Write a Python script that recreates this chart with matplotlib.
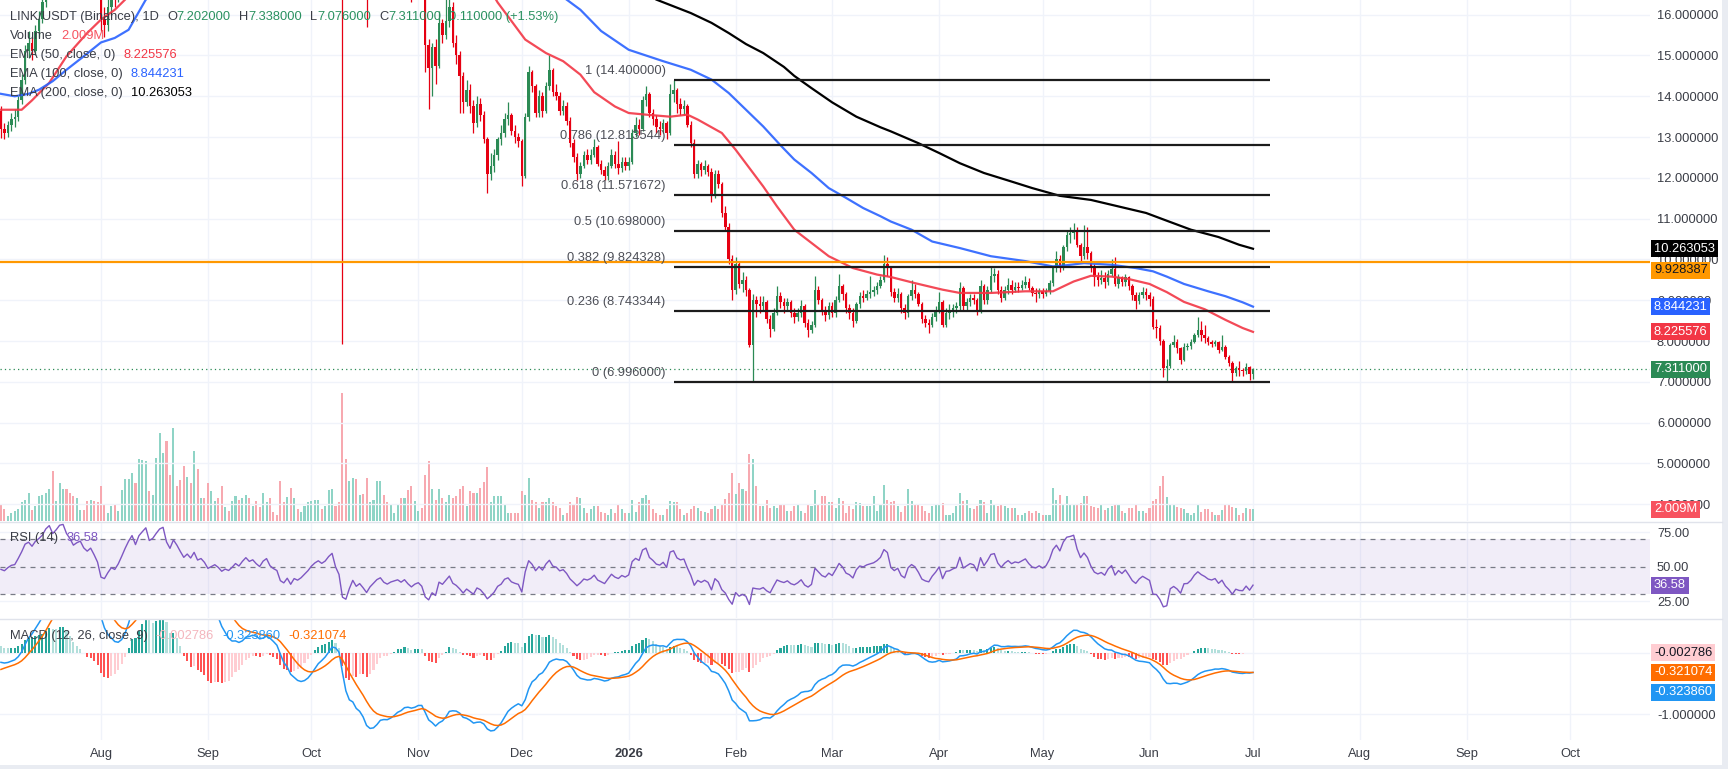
import matplotlib
matplotlib.use("Agg")
import matplotlib.pyplot as plt
import numpy as np
import pandas as pd
from matplotlib.lines import Line2D
from matplotlib.patches import Rectangle

W, H = 1728, 769
FONT = "Liberation Sans"
plt.rcParams["font.family"] = [FONT, "DejaVu Sans"]
FS = 9.3

# ---- data (daily LINK/USDT candles) ----
START = "2025-07-03"
first_open = 13.65
close = [
    13.20, 13.10, 13.30, 13.45, 13.50, 13.90, 14.40, 15.10, 15.30, 15.10,
    15.60, 15.90, 16.30, 17.20, 17.80, 17.40, 18.00, 18.90, 19.10, 18.60,
    18.30, 17.90, 18.20, 18.40, 18.00, 17.80, 18.10, 17.70, 17.20, 15.90,
    15.75, 16.20, 16.60, 16.45, 16.90, 17.60, 18.50, 19.50, 20.50, 19.80,
    21.50, 22.50, 23.60, 22.40, 22.90, 24.20, 25.60, 26.20, 24.60, 23.80,
    26.00, 25.30, 24.40, 23.50, 24.20, 23.60, 24.80, 23.60, 23.90, 23.30,
    22.30, 22.60, 22.90, 22.50, 21.90, 22.20, 22.00, 22.40, 22.90, 22.60,
    23.20, 23.70, 23.30, 23.50, 23.10, 22.80, 23.40, 23.70, 23.00, 22.70,
    22.50, 21.30, 21.00, 21.40, 20.60, 21.10, 20.90, 21.10, 21.40, 21.70,
    22.10, 22.40, 22.60, 22.40, 22.60, 23.00, 23.30, 22.30, 21.60, 18.10,
    17.60, 18.60, 19.50, 18.40, 18.70, 17.90, 16.90, 17.50, 17.90, 18.30,
    18.50, 17.80, 17.50, 17.70, 17.80, 17.90, 17.60, 17.80, 17.30, 16.90,
    17.10, 17.20, 16.80, 15.25, 14.70, 15.20, 14.75, 15.80, 15.50, 15.85,
    16.20, 15.30, 15.00, 14.50, 13.85, 14.15, 13.75, 13.35, 13.80, 13.55,
    12.95, 12.10, 12.30, 12.55, 12.95, 13.10, 13.45, 13.55, 13.15, 13.00,
    12.90, 12.05, 13.50, 14.60, 14.25, 13.60, 14.00, 13.65, 14.25, 14.65,
    14.10, 14.00, 13.65, 13.75, 13.40, 12.85, 12.50, 12.10, 12.30, 12.55,
    12.45, 12.55, 12.75, 12.35, 12.20, 12.05, 12.30, 12.55, 12.35, 12.25,
    12.40, 12.30, 12.40, 13.10, 13.30, 13.20, 13.90, 14.05, 13.60, 13.45,
    13.25, 13.20, 13.35, 13.10, 14.05, 14.15, 13.80, 13.70, 13.75, 13.30,
    12.85, 12.10, 12.35, 12.20, 12.30, 12.15, 11.55, 12.10, 11.85, 11.15,
    10.80, 10.00, 9.25, 9.90, 9.40, 9.50, 9.25, 7.90, 9.00, 8.90,
    8.85, 8.95, 8.55, 8.30, 8.70, 9.10, 8.95, 8.85, 8.95, 8.70,
    8.60, 8.70, 8.85, 8.45, 8.28, 8.40, 9.25, 9.00, 8.75, 8.65,
    8.85, 8.70, 9.00, 9.35, 9.15, 8.80, 8.70, 8.50, 8.90, 9.10,
    9.05, 9.15, 9.20, 9.25, 9.35, 9.50, 9.90, 9.80, 9.20, 9.05,
    9.15, 8.80, 8.68, 9.10, 9.25, 9.15, 8.90, 8.55, 8.45, 8.40,
    8.60, 8.75, 8.95, 8.40, 8.70, 8.72, 8.80, 8.85, 9.30, 8.85,
    8.95, 9.05, 9.00, 8.75, 9.35, 9.00, 9.25, 9.60, 9.65, 9.25,
    9.05, 9.25, 9.38, 9.25, 9.33, 9.30, 9.38, 9.46, 9.30, 9.18,
    9.15, 9.22, 9.15, 9.22, 9.42, 9.80, 10.00, 9.85, 10.30, 10.60,
    10.65, 10.73, 10.36, 10.08, 10.30, 10.15, 9.83, 9.58, 9.50, 9.55,
    9.44, 9.65, 9.77, 9.40, 9.56, 9.44, 9.56, 9.36, 9.12, 8.99,
    9.12, 9.20, 9.12, 9.04, 8.35, 8.33, 8.00, 7.35, 7.38, 7.90,
    7.98, 7.82, 7.54, 7.86, 7.87, 7.98, 8.16, 8.28, 8.16, 8.08,
    7.97, 7.93, 7.97, 7.78, 7.86, 7.62, 7.46, 7.22, 7.34, 7.28,
    7.27, 7.37, 7.202, 7.311,
]
high = [
    13.75, 13.35, 13.40, 13.60, 13.70, 14.00, 14.55, 15.25, 15.60, 15.45,
    15.75, 16.10, 16.60, 17.50, 18.20, 18.30, 18.40, 19.30, 19.50, 19.30,
    18.90, 18.50, 18.50, 18.80, 18.60, 18.30, 18.40, 18.30, 17.90, 17.40,
    16.20, 16.40, 16.90, 16.80, 17.10, 17.80, 18.70, 19.80, 21.00, 20.60,
    21.80, 22.90, 24.00, 24.00, 23.30, 24.60, 26.00, 26.80, 26.50, 25.00,
    26.40, 26.30, 25.60, 24.70, 24.50, 24.50, 25.20, 25.00, 24.20, 24.10,
    23.50, 22.90, 23.20, 23.10, 22.70, 22.50, 22.40, 22.60, 23.20, 23.10,
    23.40, 24.00, 23.90, 23.80, 23.70, 23.30, 23.60, 24.00, 23.90, 23.20,
    22.90, 22.60, 21.60, 21.70, 21.50, 21.40, 21.30, 21.30, 21.60, 21.90,
    22.30, 22.70, 22.90, 22.80, 22.80, 23.30, 23.60, 23.40, 22.50, 21.80,
    18.40, 18.90, 19.80, 19.60, 19.00, 18.80, 18.00, 17.70, 18.20, 18.50,
    18.80, 18.60, 18.00, 17.90, 18.00, 18.10, 18.00, 18.00, 17.90, 17.40,
    17.40, 17.50, 17.40, 16.90, 15.40, 15.30, 15.40, 16.10, 15.90, 16.40,
    16.60, 16.30, 15.50, 15.10, 14.60, 14.40, 14.30, 13.90, 14.00, 13.95,
    13.65, 13.00, 12.60, 12.70, 13.00, 13.30, 13.60, 13.85, 13.60, 13.30,
    13.10, 12.95, 13.60, 14.75, 14.65, 14.30, 14.15, 14.10, 14.35, 15.00,
    14.70, 14.30, 14.10, 13.90, 13.85, 13.50, 12.95, 12.60, 12.40, 12.65,
    12.70, 12.70, 12.95, 12.80, 12.45, 12.30, 12.40, 12.70, 12.65, 12.90,
    12.50, 12.50, 12.50, 13.20, 13.50, 13.45, 14.00, 14.25, 14.10, 13.70,
    13.55, 13.40, 13.45, 13.40, 14.30, 14.40, 14.20, 13.95, 13.90, 13.80,
    13.40, 12.95, 12.45, 12.40, 12.45, 12.35, 12.25, 12.20, 12.20, 11.90,
    11.30, 10.90, 10.10, 10.05, 9.95, 9.70, 9.60, 9.30, 9.15, 9.10,
    9.10, 9.10, 9.00, 8.65, 8.80, 9.35, 9.20, 9.05, 9.05, 9.00,
    8.80, 8.80, 9.00, 8.90, 8.55, 8.50, 9.60, 9.35, 9.05, 8.85,
    8.95, 8.95, 9.10, 9.65, 9.40, 9.20, 8.90, 8.80, 8.95, 9.20,
    9.25, 9.25, 9.60, 9.35, 9.45, 9.60, 10.10, 10.05, 9.85, 9.30,
    9.30, 9.20, 8.90, 9.15, 9.50, 9.40, 9.20, 8.95, 8.65, 8.55,
    8.70, 8.85, 9.20, 9.00, 8.80, 8.90, 8.90, 8.95, 9.45, 9.35,
    9.05, 9.15, 9.15, 9.05, 9.50, 9.40, 9.35, 9.85, 9.80, 9.75,
    9.35, 9.35, 9.55, 9.50, 9.45, 9.45, 9.50, 9.60, 9.55, 9.35,
    9.30, 9.30, 9.30, 9.30, 9.50, 9.85, 10.20, 10.10, 10.35, 10.70,
    10.80, 10.90, 10.80, 10.40, 10.85, 10.80, 10.20, 9.90, 9.70, 9.75,
    9.70, 9.75, 10.02, 10.05, 9.65, 9.60, 9.65, 9.60, 9.40, 9.20,
    9.20, 9.33, 9.30, 9.20, 9.10, 8.55, 8.40, 8.05, 7.55, 7.95,
    8.14, 8.05, 7.85, 7.95, 7.95, 8.05, 8.20, 8.58, 8.50, 8.40,
    8.12, 8.02, 8.02, 8.00, 8.14, 7.90, 7.65, 7.50, 7.40, 7.50,
    7.35, 7.47, 7.40, 7.338,
]
low = [
    12.98, 12.95, 13.00, 13.15, 13.25, 13.40, 13.80, 14.30, 14.95, 14.90,
    15.00, 15.45, 15.80, 16.20, 17.00, 17.10, 17.20, 17.90, 18.60, 18.30,
    18.00, 17.60, 17.70, 18.00, 17.80, 17.50, 17.60, 17.50, 17.00, 15.60,
    15.45, 15.60, 16.00, 16.20, 16.30, 16.80, 17.40, 18.30, 19.20, 19.50,
    19.50, 21.20, 22.30, 22.10, 22.10, 22.60, 24.00, 25.30, 24.20, 23.30,
    23.50, 25.00, 24.10, 23.20, 23.30, 23.30, 23.40, 23.40, 23.40, 23.00,
    22.00, 22.10, 22.40, 22.30, 21.60, 21.70, 21.80, 21.80, 22.30, 22.40,
    22.40, 23.00, 23.10, 23.10, 22.90, 22.50, 22.60, 23.20, 22.80, 22.50,
    22.30, 21.00, 20.70, 20.80, 20.30, 20.40, 20.70, 20.80, 21.00, 21.20,
    21.50, 21.90, 22.20, 22.10, 22.20, 22.40, 22.80, 22.10, 21.30, 7.94,
    17.10, 17.40, 18.40, 18.20, 18.20, 17.70, 15.70, 16.70, 17.30, 17.80,
    18.10, 17.60, 17.20, 17.30, 17.50, 17.60, 17.40, 17.40, 17.10, 16.30,
    16.70, 16.90, 16.50, 14.60, 13.70, 14.00, 14.30, 14.70, 15.30, 15.40,
    15.70, 15.20, 14.80, 13.60, 13.60, 13.75, 13.60, 13.10, 13.25, 13.40,
    12.85, 11.63, 11.95, 12.15, 12.45, 12.80, 13.00, 13.30, 13.05, 12.85,
    12.75, 11.80, 12.00, 13.40, 14.10, 13.50, 13.50, 13.50, 13.60, 14.15,
    14.00, 13.90, 13.55, 13.55, 13.30, 12.75, 12.40, 11.95, 12.00, 12.25,
    12.35, 12.35, 12.50, 12.30, 12.10, 11.95, 11.95, 12.25, 12.25, 12.10,
    12.15, 12.20, 12.20, 12.35, 13.00, 13.05, 13.15, 13.75, 13.50, 13.30,
    13.10, 13.05, 13.10, 12.95, 13.05, 13.85, 13.60, 13.55, 13.55, 13.25,
    12.75, 12.00, 12.00, 12.05, 12.10, 12.05, 11.40, 11.50, 11.75, 11.05,
    10.70, 9.90, 9.00, 9.15, 9.30, 9.20, 9.10, 7.85, 6.996, 8.60,
    8.70, 8.75, 8.45, 8.10, 8.25, 8.65, 8.80, 8.70, 8.75, 8.60,
    8.45, 8.50, 8.60, 8.35, 8.10, 8.20, 8.35, 8.90, 8.65, 8.50,
    8.55, 8.60, 8.60, 8.95, 9.00, 8.70, 8.55, 8.35, 8.45, 8.80,
    8.95, 9.00, 9.05, 9.10, 9.15, 9.30, 9.45, 9.60, 9.10, 8.95,
    8.95, 8.70, 8.55, 8.60, 9.00, 9.05, 8.85, 8.45, 8.35, 8.20,
    8.35, 8.50, 8.70, 8.35, 8.35, 8.55, 8.60, 8.70, 8.75, 8.75,
    8.75, 8.85, 8.90, 8.65, 8.70, 8.90, 8.90, 9.20, 9.45, 9.15,
    8.95, 9.00, 9.15, 9.15, 9.20, 9.20, 9.25, 9.30, 9.25, 9.10,
    8.95, 9.05, 9.05, 9.10, 9.15, 9.35, 9.70, 9.70, 9.75, 10.20,
    10.40, 10.50, 10.30, 9.95, 10.00, 10.00, 9.70, 9.35, 9.35, 9.40,
    9.30, 9.38, 9.60, 9.35, 9.30, 9.35, 9.35, 9.25, 9.00, 8.79,
    8.90, 9.05, 9.00, 8.87, 8.30, 8.08, 7.90, 7.13, 7.00, 7.35,
    7.85, 7.70, 7.45, 7.50, 7.78, 7.80, 7.95, 8.10, 8.00, 7.95,
    7.90, 7.85, 7.88, 7.72, 7.75, 7.55, 7.40, 7.00, 7.15, 7.15,
    7.15, 7.20, 7.05, 7.076,
]
volume_m = [
    2.9, 2.0, 0.9, 1.4, 1.7, 2.0, 3.3, 3.7, 4.8, 1.9,
    2.6, 4.3, 4.4, 4.9, 5.5, 8.6, 3.4, 6.5, 5.5, 5.5,
    4.8, 4.3, 3.9, 1.9, 1.9, 3.4, 3.6, 3.4, 3.3, 6.1,
    2.9, 1.4, 2.6, 2.8, 1.7, 5.3, 7.2, 7.2, 8.2, 6.6,
    10.7, 10.6, 10.3, 5.2, 4.5, 10.9, 15.1, 11.8, 13.8, 8.0,
    16.0, 6.0, 7.1, 9.5, 7.6, 6.6, 12.0, 9.0, 4.0, 4.0,
    6.5, 5.2, 3.4, 3.9, 6.1, 2.5, 1.7, 3.4, 4.3, 3.7,
    4.0, 4.5, 3.9, 2.6, 3.4, 2.4, 4.9, 3.2, 4.0, 1.6,
    1.1, 6.9, 3.2, 4.2, 5.7, 4.0, 2.0, 1.6, 2.6, 3.2,
    3.4, 3.7, 3.6, 2.1, 2.6, 5.3, 5.5, 2.6, 3.2, 22.0,
    10.7, 6.9, 7.5, 7.2, 4.5, 4.7, 7.5, 3.2, 3.7, 6.9,
    6.9, 4.4, 3.2, 3.0, 1.3, 3.0, 3.9, 4.0, 5.3, 6.0,
    3.4, 1.7, 2.3, 7.9, 10.3, 5.6, 3.7, 5.6, 4.0, 3.2,
    4.4, 4.0, 4.3, 5.6, 6.1, 2.6, 5.2, 4.8, 4.8, 5.7,
    6.7, 9.3, 3.2, 4.3, 4.3, 4.3, 2.9, 1.4, 1.4, 1.3,
    1.3, 5.2, 4.5, 7.4, 3.7, 3.3, 2.3, 3.2, 3.3, 3.9,
    3.2, 2.6, 2.3, 1.1, 1.4, 3.3, 2.9, 4.1, 3.9, 2.3,
    1.4, 2.0, 2.6, 2.6, 1.6, 1.4, 1.1, 2.0, 1.4, 2.8,
    2.0, 1.4, 1.4, 3.7, 1.6, 3.2, 4.0, 4.4, 3.7, 2.0,
    1.4, 1.1, 1.1, 2.0, 3.4, 3.2, 3.2, 2.0, 1.1, 1.4,
    2.0, 2.6, 2.3, 1.7, 1.6, 1.4, 2.0, 2.6, 2.0, 2.9,
    3.8, 4.9, 8.2, 4.6, 6.5, 5.6, 5.2, 11.5, 10.7, 6.0,
    2.6, 2.6, 3.7, 2.3, 2.6, 2.3, 2.8, 2.9, 1.7, 1.7,
    2.6, 2.9, 1.7, 1.4, 2.9, 2.6, 5.3, 2.9, 4.3, 4.3,
    3.2, 3.2, 2.3, 4.0, 3.4, 1.4, 2.6, 2.0, 3.2, 3.1,
    2.6, 2.6, 2.6, 4.3, 1.7, 2.8, 6.2, 3.7, 3.3, 3.5,
    2.6, 1.6, 2.6, 5.6, 3.5, 2.9, 2.9, 2.6, 1.7, 1.4,
    2.6, 2.8, 2.9, 3.1, 1.1, 1.1, 1.4, 2.6, 4.8, 3.4,
    3.6, 2.3, 2.0, 2.6, 3.6, 3.3, 1.4, 3.7, 2.9, 2.6,
    2.8, 2.6, 2.3, 2.3, 2.3, 1.1, 1.0, 1.3, 1.7, 1.3,
    1.8, 1.3, 1.1, 1.1, 1.1, 5.7, 3.6, 4.4, 2.8, 4.3,
    2.8, 2.9, 2.9, 3.1, 4.3, 4.3, 2.6, 2.4, 2.3, 2.9,
    1.9, 2.3, 2.6, 3.0, 2.9, 1.8, 1.3, 2.2, 2.2, 3.0,
    1.8, 1.8, 1.4, 2.3, 3.4, 3.8, 6.1, 7.7, 4.1, 3.0,
    2.8, 2.5, 2.3, 2.1, 1.3, 1.1, 1.3, 2.7, 1.6, 2.0,
    2.0, 1.6, 1.1, 1.0, 1.9, 2.9, 3.0, 2.4, 2.2, 1.0,
    1.3, 2.2, 2.0, 2.009,
]

# moving averages (day index since START, value)
ema50_day = [0, 6, 9, 14, 19, 25, 29, 33, 36, 45, 60, 75, 90, 100, 110, 122, 130, 137, 144,
             152, 158, 163, 168, 172, 178, 182, 187, 194, 199, 202, 209, 213, 221, 225, 230,
             240, 247, 254, 258, 265, 273, 278, 287, 297, 305, 311, 316, 322, 327, 333, 338,
             343, 349, 355, 360, 363]
ema50_val = [13.67, 13.67, 13.9, 14.33, 14.98, 15.55, 15.88, 16.12, 16.37, 17.3, 19.0, 20.3,
             21.0, 21.0, 20.4, 19.4, 18.3, 17.3, 16.3, 15.39, 15.06, 14.86, 14.53, 14.1, 13.75,
             13.59, 13.55, 13.5, 13.55, 13.43, 13.1, 12.69, 11.79, 11.3, 10.73, 10.08, 9.79,
             9.63, 9.57, 9.42, 9.26, 9.18, 9.18, 9.22, 9.22, 9.46, 9.6, 9.58, 9.52, 9.4, 9.2,
             8.96, 8.78, 8.52, 8.32, 8.2256]
ema100_day = [0, 4, 8, 11, 15, 19, 24, 29, 33, 37, 42, 60, 80, 100, 120, 140, 155, 164, 168,
              174, 182, 192, 200, 206, 211, 216, 221, 226, 230, 235, 240, 245, 250, 255, 258,
              264, 270, 278, 287, 297, 305, 309, 314, 322, 329, 334, 338, 343, 350, 355, 360, 363]
ema100_val = [14.06, 14.0, 14.06, 14.16, 14.37, 14.65, 14.98, 15.32, 15.43, 15.63, 16.37, 17.4,
              18.4, 18.9, 18.7, 17.6, 16.9, 16.37, 16.12, 15.6, 15.14, 14.86, 14.65, 14.41,
              14.08, 13.67, 13.26, 12.8, 12.45, 12.12, 11.75, 11.51, 11.26, 11.06, 10.93, 10.73,
              10.44, 10.28, 10.08, 9.96, 9.83, 9.86, 9.91, 9.87, 9.79, 9.71, 9.58, 9.4, 9.22,
              9.1, 8.95, 8.844]
ema200_day = [0, 30, 60, 100, 130, 160, 180, 190, 200, 206, 211, 216, 221, 227, 230, 235, 241,
              248, 255, 258, 266, 272, 278, 285, 293, 299, 307, 316, 324, 332, 338, 345, 353,
              359, 363]
ema200_val = [16.9, 17.1, 17.8, 18.5, 18.4, 17.5, 16.9, 16.37, 16.04, 15.8, 15.55, 15.28, 15.06,
              14.72, 14.5, 14.2, 13.85, 13.5, 13.24, 13.14, 12.85, 12.61, 12.36, 12.12, 11.91,
              11.75, 11.56, 11.46, 11.3, 11.14, 10.95, 10.73, 10.55, 10.36, 10.263]

fib_ratios = [1, 0.786, 0.618, 0.5, 0.382, 0.236, 0]
fib_prices = [14.4, 12.813544, 11.571672, 10.698, 9.824328, 8.743344, 6.996]
fib_start, fib_end = 195, 368
hline_price = 9.928387
last_price = 7.311

# indicator seeds (state before the first visible bar)
rsi_seed_gain, rsi_seed_loss = 0.19, 0.17
ema12_seed, ema26_seed, signal_seed = 13.42, 13.57, -0.30

UP, DOWN = "#2b8a55", "#e60012"
VOL_UP, VOL_DOWN = "#8fd4c6", "#f7a9b0"
GRID, SEP = "#f0f3fa", "#e0e3eb"
TXT = "#3a3d46"


def px_rect(left, top, right, bottom):
    return [left / W, 1 - bottom / H, (right - left) / W, (bottom - top) / H]


def ema(values, n, seed):
    a = 2.0 / (n + 1)
    e, out = seed, []
    for v in values:
        e = a * v + (1 - a) * e
        out.append(e)
    return np.array(out)


def wilder_rsi(values, prev, gain, loss, n=14):
    out = []
    for c in values:
        ch = c - prev
        gain = (gain * (n - 1) + max(ch, 0)) / n
        loss = (loss * (n - 1) + max(-ch, 0)) / n
        out.append(100 - 100 / (1 + gain / loss))
        prev = c
    return np.array(out)


def rich_text(fig, x_px, y_px, parts):
    renderer = fig.canvas.get_renderer()
    x = x_px
    for s, color, gap in parts:
        t = fig.text(x / W, 1 - y_px / H, s, color=color, fontsize=FS, ha="left", va="center")
        x += t.get_window_extent(renderer=renderer).width + gap


def axis_box(ax, y, text, face, color, yform=None, dy=0):
    ax.annotate(text, xy=(1, y), xycoords=yform or ax.get_yaxis_transform(),
                xytext=(4, dy), textcoords="offset pixels", ha="left", va="center",
                fontsize=FS, color=color, annotation_clip=False, zorder=10,
                bbox=dict(boxstyle="square,pad=0.2", fc=face, ec="none"))


def style_axis(ax, month_pos):
    for s in ax.spines.values():
        s.set_visible(False)
    ax.yaxis.tick_right()
    ax.tick_params(axis="y", length=0, pad=5, labelsize=FS, labelcolor=TXT)
    ax.tick_params(axis="x", length=0)
    for p in month_pos:
        ax.axvline(p, color=GRID, lw=1, zorder=0)


def main():
    start = pd.Timestamp(START)
    days = np.arange(len(close))
    c = np.array(close)
    o = np.array([first_open] + close[:-1])
    hi, lo = np.array(high), np.array(low)
    up = c >= o

    months = pd.date_range("2025-08-01", "2026-10-01", freq="MS")
    month_pos = [(m - start).days for m in months]
    month_lbl = ["2026" if m.month == 1 else m.strftime("%b") for m in months]
    xlim = (-0.28, 478.1)

    fig = plt.figure(figsize=(W / 100, H / 100), dpi=100)
    fig.patch.set_facecolor("white")

    # ---- main price pane with volume underneath ----
    rect = px_rect(0, 0, 1650, 521)
    ax_vol = fig.add_axes(rect, zorder=1)
    ax = fig.add_axes(rect, zorder=2, sharex=ax_vol)
    ax.patch.set_alpha(0)
    ax_vol.set_ylim(0, 521 / 5.8)
    ax_vol.set_yticks([])
    for s in ax_vol.spines.values():
        s.set_visible(False)
    ax_vol.tick_params(length=0, labelbottom=False)
    for p in month_pos:
        ax_vol.axvline(p, color=GRID, lw=1, zorder=0)
    ax_vol.bar(days, volume_m, width=0.6, color=np.where(up, VOL_UP, VOL_DOWN), lw=0)

    style_axis(ax, [])
    ax.set_xlim(*xlim)
    ax.set_ylim(3.59, 16.36)
    ticks = list(range(4, 17))
    ax.set_yticks(ticks)
    ax.set_yticklabels([f"{t:.6f}" for t in ticks])
    ax.tick_params(axis="x", labelbottom=False)
    for t in ticks:
        ax.axhline(t, color=GRID, lw=1, zorder=0)

    cols = np.where(up, UP, DOWN)
    ax.vlines(days, lo, hi, colors=cols, lw=0.9, zorder=3)
    body = np.maximum(np.abs(c - o), 0.012)
    ax.bar(days, body, bottom=np.minimum(c, o), width=0.72, color=cols, lw=0, zorder=4)

    ax.plot(ema50_day, ema50_val, color="#f23645", lw=1.6, alpha=0.9, zorder=5)
    ax.plot(ema100_day, ema100_val, color="#2962ff", lw=1.6, alpha=0.9, zorder=5)
    ax.plot(ema200_day, ema200_val, color="#000000", lw=1.6, zorder=5)

    ax.axhline(last_price, color=UP, lw=0.9, ls=(0, (1, 2.5)), zorder=2)
    ax.axhline(hline_price, color="#ff9800", lw=1.6, zorder=6)
    ax.hlines(fib_prices, fib_start, fib_end, color="#1c1c1c", lw=1.6, zorder=6)
    for r, p in zip(fib_ratios, fib_prices):
        ax.annotate(f"{r:g} ({p:.6f})", xy=(fib_start, p), xytext=(-8, 3),
                    textcoords="offset pixels", ha="right", va="bottom",
                    fontsize=FS, color="#4d4f57", zorder=7)

    axis_box(ax, 10.263053, "10.263053", "#000000", "white")
    axis_box(ax, hline_price, "9.928387", "#ff9800", "#131722", dy=-8)
    axis_box(ax, 8.844231, "8.844231", "#2962ff", "white")
    axis_box(ax, 8.225576, "8.225576", "#f23645", "white")
    axis_box(ax, last_price, "7.311000", UP, "white")
    axis_box(ax, volume_m[-1], "2.009M", "#f7525f", "white",
             yform=ax_vol.get_yaxis_transform())

    # ---- RSI pane ----
    rsi = wilder_rsi(close, first_open, rsi_seed_gain, rsi_seed_loss)
    ax_r = fig.add_axes(px_rect(0, 522, 1650, 618), sharex=ax_vol)
    style_axis(ax_r, month_pos)
    ax_r.set_ylim(12.8, 82.6)
    ax_r.set_yticks([25, 50, 75])
    ax_r.set_yticklabels(["25.00", "50.00", "75.00"])
    ax_r.tick_params(axis="x", labelbottom=False)
    for g in (25, 75):
        ax_r.axhline(g, color=GRID, lw=1, zorder=0)
    ax_r.axhspan(30, 70, color="#7e57c2", alpha=0.1, lw=0)
    for lv in (70, 50, 30):
        ax_r.axhline(lv, color="#787b86", lw=0.9, ls=(0, (4, 4)))
    ax_r.plot(days, rsi, color="#7e57c2", lw=1.0)
    axis_box(ax_r, 36.58, "36.58", "#7e57c2", "white")

    # ---- MACD pane ----
    macd = ema(close, 12, ema12_seed) - ema(close, 26, ema26_seed)
    signal = ema(macd, 9, signal_seed)
    hist = macd - signal
    prev = np.concatenate([[hist[0]], hist[:-1]])
    hcols = np.where(hist >= 0, np.where(hist > prev, "#26a69a", "#b2dfdb"),
                     np.where(hist < prev, "#ff5252", "#ffcdd2"))
    ax_m = fig.add_axes(px_rect(0, 619, 1650, 740), sharex=ax_vol)
    style_axis(ax_m, month_pos)
    ax_m.set_ylim(-1.417, 0.547)
    ax_m.set_yticks([-1, 0])
    ax_m.set_yticklabels(["-1.000000", "0.000000"])
    for g in (-1, 0):
        ax_m.axhline(g, color=GRID, lw=1, zorder=0)
    ax_m.bar(days, hist, width=0.6, color=hcols, lw=0)
    ax_m.plot(days, macd, color="#2196f3", lw=1.1)
    ax_m.plot(days, signal, color="#ff6d00", lw=1.1)
    ax_m.set_xticks(month_pos)
    ax_m.set_xticklabels(month_lbl)
    ax_m.tick_params(axis="x", pad=6, labelsize=FS, labelcolor=TXT)
    for lbl in ax_m.get_xticklabels():
        if lbl.get_text() == "2026":
            lbl.set_fontweight("bold")
    axis_box(ax_m, 0.0, "-0.002786", "#ffcdd2", "#131722")
    axis_box(ax_m, -0.321074, "-0.321074", "#ff6d00", "white")
    axis_box(ax_m, -0.321074, "-0.323860", "#2196f3", "white", dy=-20)
    ax.set_xlim(*xlim)

    # ---- pane separators and frame ----
    for y in (521.5, 618.5):
        fig.add_artist(Line2D([0, 1722 / W], [1 - y / H] * 2, color=SEP, lw=1))
    fig.add_artist(Rectangle((1722 / W, 0), 6 / W, 1, transform=fig.transFigure,
                             color="#e9ecf2", lw=0))
    fig.add_artist(Rectangle((0, 0), 1, 4 / H, transform=fig.transFigure,
                             color="#e9ecf2", lw=0))

    # ---- legends ----
    green = "#2a9160"
    rich_text(fig, 10, 17, [("LINK/USDT (Binance), 1D", TXT, 8),
                            ("O", TXT, 0), ("7.202000", green, 8),
                            ("H", TXT, 0), ("7.338000", green, 8),
                            ("L", TXT, 0), ("7.076000", green, 8),
                            ("C", TXT, 0), ("7.311000", green, 8),
                            ("0.110000 (+1.53%)", green, 0)])
    rich_text(fig, 10, 36, [("Volume", TXT, 8), ("2.009M", "#f7525f", 0)])
    rich_text(fig, 10, 55, [("EMA (50, close, 0)", TXT, 8), ("8.225576", "#f23645", 0)])
    rich_text(fig, 10, 74, [("EMA (100, close, 0)", TXT, 8), ("8.844231", "#2962ff", 0)])
    rich_text(fig, 10, 93, [("EMA (200, close, 0)", TXT, 8), ("10.263053", "#000000", 0)])
    rich_text(fig, 10, 538, [("RSI (14)", TXT, 8), ("36.58", "#7e57c2", 0)])
    rich_text(fig, 10, 636, [("MACD (12, 26, close, 9)", TXT, 8), ("-0.002786", "#f4b6bd", 8),
                             ("-0.323860", "#2196f3", 8), ("-0.321074", "#ff6d00", 0)])

    fig.savefig("out.png", dpi=100)
    plt.close(fig)


if __name__ == "__main__":
    main()
